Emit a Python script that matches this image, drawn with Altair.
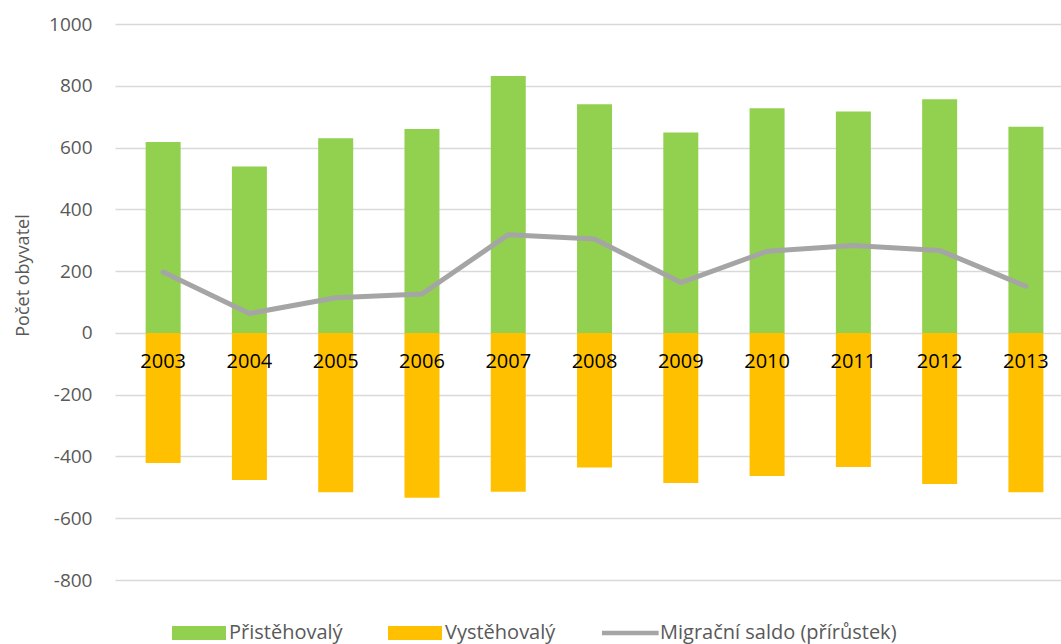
import altair as alt
import pandas as pd

# Migration of inhabitants per year
years = [2003, 2004, 2005, 2006, 2007, 2008, 2009, 2010, 2011, 2012, 2013]
prisluhovali = [618, 539, 630, 660, 832, 740, 649, 727, 717, 756, 667]      # moved in
vystehovali = [-421, -476, -516, -534, -514, -436, -486, -463, -434, -489, -516]  # moved out
saldo = [197, 63, 114, 126, 318, 304, 163, 264, 283, 267, 151]              # net migration

S_IN = "Přistěhovalý"
S_OUT = "Vystěhovalý"
S_NET = "Migrační saldo (přírůstek)"
series_names = [S_IN, S_OUT, S_NET]
y_ticks = [-800, -600, -400, -200, 0, 200, 400, 600, 800, 1000]

GREEN = "#92D050"
ORANGE = "#FFC000"
GREY = "#A5A5A5"
FONT = "Open Sans"

PLOT_W, PLOT_H = 946, 556
STEP = 87.2  # pixels per year on the x axis

df_in = pd.DataFrame({"year": years, "value": prisluhovali})
df_out = pd.DataFrame({"year": years, "value": vystehovali})
df_net = pd.DataFrame({"year": years, "value": saldo, "label": [str(y) for y in years]})
df_legend = pd.DataFrame({"series": series_names})

x_scale = alt.Scale(domain=[years[0] - 0.5, years[0] - 0.5 + PLOT_W / STEP], nice=False, zero=False)
y_scale = alt.Scale(domain=[-800, 1000], nice=False)

y_axis = alt.Axis(
    title="Počet obyvatel",
    values=y_ticks,
    labelExpr="'' + datum.value",
    grid=True,
    gridColor="#D9D9D9",
    gridWidth=1.3,
    ticks=False,
    tickSize=0,
    domain=False,
    labelPadding=23,
    labelFont=FONT,
    labelFontSize=19,
    labelColor="#595959",
    titleFont=FONT,
    titleFontSize=18,
    titleFontWeight="normal",
    titleColor="#595959",
    titleX=-83,
    titleY=251,
)

bars_in = alt.Chart(df_in).mark_bar(size=35, color=GREEN).encode(
    x=alt.X("year:Q", scale=x_scale, axis=None),
    y=alt.Y("value:Q", scale=y_scale, axis=y_axis, stack=None),
)

bars_out = alt.Chart(df_out).mark_bar(size=35, color=ORANGE).encode(
    x=alt.X("year:Q", scale=x_scale, axis=None),
    y=alt.Y("value:Q", scale=y_scale, stack=None),
)

net_line = alt.Chart(df_net).mark_line(
    color=GREY, strokeWidth=5, strokeCap="round", strokeJoin="round"
).encode(
    x=alt.X("year:Q", scale=x_scale, axis=None),
    y=alt.Y("value:Q", scale=y_scale),
)

year_labels = alt.Chart(df_net).mark_text(
    dy=29, font=FONT, fontSize=20, color="#000000", baseline="middle"
).encode(
    x=alt.X("year:Q", scale=x_scale, axis=None),
    y=alt.datum(0),
    text="label:N",
)

legend_def = dict(
    title=None,
    orient="none",
    legendX=57,
    legendY=582,
    direction="horizontal",
    symbolSize=2916,
    symbolStrokeWidth=0,
    labelFont=FONT,
    labelFontSize=20,
    labelColor="#595959",
    labelOffset=3,
    labelLimit=600,
    columnPadding=45,
    padding=0,
)

rect_path = "M-1,-0.26L1,-0.26L1,0.26L-1,0.26Z"
stroke_path = "M-1.04,-0.085L1.06,-0.085L1.06,0.085L-1.04,0.085Z"

legend_layer = alt.Chart(df_legend).mark_point(filled=True, opacity=1).encode(
    color=alt.Color(
        "series:N",
        scale=alt.Scale(domain=series_names, range=[GREEN, ORANGE, GREY]),
        legend=alt.Legend(**legend_def),
    ),
    shape=alt.Shape(
        "series:N",
        scale=alt.Scale(domain=series_names, range=[rect_path, rect_path, stroke_path]),
        legend=alt.Legend(**legend_def),
    ),
).transform_filter("false")

chart = (
    alt.layer(bars_in, bars_out, net_line, year_labels, legend_layer)
    .properties(
        width=PLOT_W,
        height=PLOT_H,
        autosize=alt.AutoSizeParams(type="none"),
        padding={"left": 115, "top": 24, "right": 0, "bottom": 64},
        background="white",
    )
    .configure_view(stroke=None)
)

chart.save("out.html", embed_options={"renderer": "svg", "actions": False})
